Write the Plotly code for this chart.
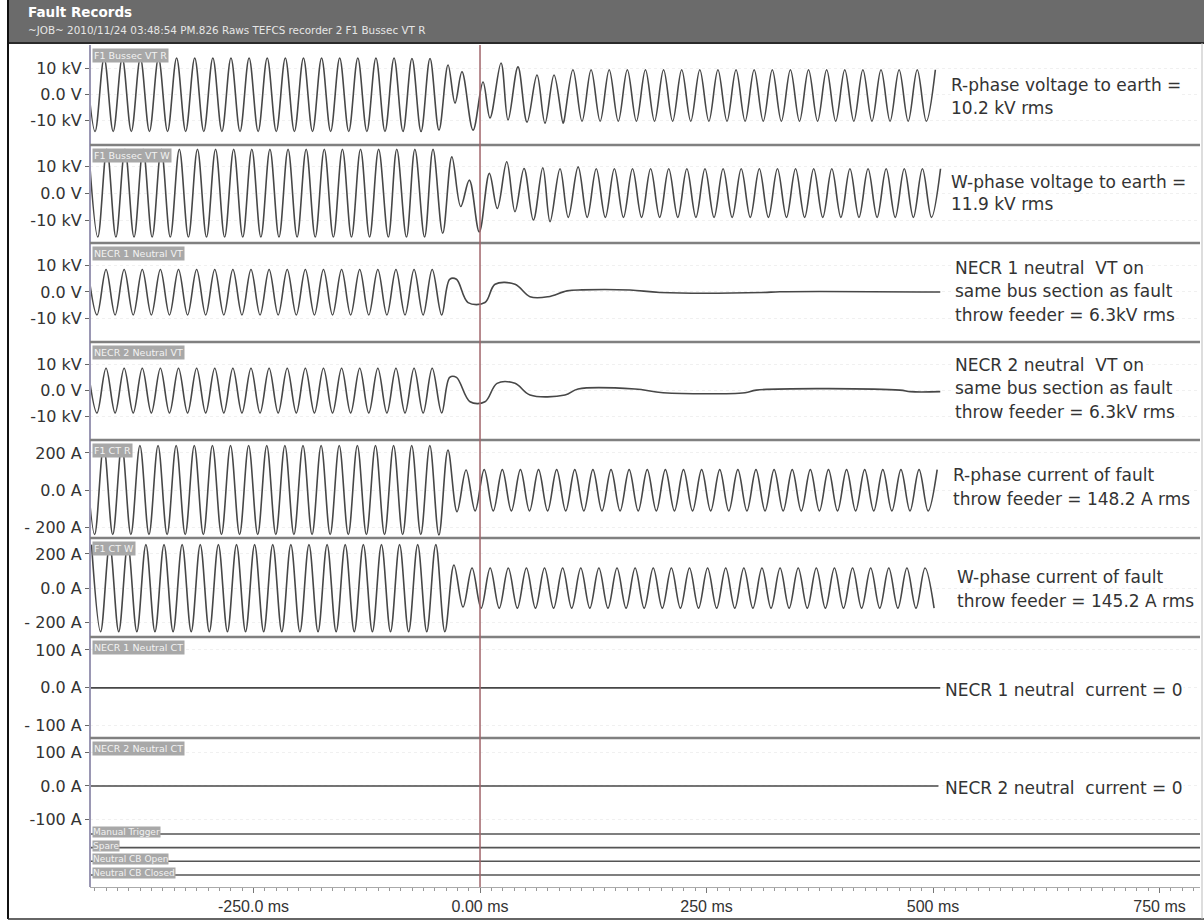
import numpy as np
import plotly.graph_objects as go

# ---------------- data ----------------
CYCLE_MS = 20.0
RECORD_START_MS = -436.0
RECORD_END_MS = 510.0

X_RANGE_MS = [-430.5, 794.7]
X_TICK_VALUES = [-250, 0, 250, 500, 750]
X_TICK_LABELS = ["-250.0 ms", "0.00 ms", "250 ms", "500 ms", "750 ms"]
CURSOR_MS = 0.0

# Channel 1: F1 Bussec VT R (kV) - peak/trough levels and event-window extrema
VR_PRE_PHASE_MS, VR_PRE_PEAK, VR_PRE_TROUGH = 5.1, 14.0, -14.2
VR_EVENT_MS = [-94.9, -85.0, -75.1, -65.1, -55.2, -45.3, -35.3, -27.6, -19.9, -7.7,
               3.3, 11.0, 23.2, 30.9, 41.9, 51.9, 62.9, 71.7, 81.7, 91.6]
VR_EVENT_KV = [14.0, -14.2, 13.8, -14.2, 13.8, -13.7, 11.3, -3.3, 8.7, -13.7,
               4.8, -9.0, 12.1, -9.8, 10.6, -10.6, 7.5, -11.0, 7.5, -11.0]
VR_POST_PHASE_MS, VR_POST_PEAK, VR_POST_TROUGH = 2.6, 9.5, -10.3

# Channel 2: F1 Bussec VT W (kV)
VW_PRE_PHASE_MS, VW_PRE_PEAK, VW_PRE_TROUGH = 8.1, 16.2, -16.3
VW_EVENT_MS = [-101.2, -91.9, -81.2, -71.9, -61.2, -51.9, -41.2, -31.1, -21.3, -11.8,
               -0.8, 10.3, 19.1, 29.5, 38.6, 48.6, 58.9, 69.3, 77.3, 88.3, 97.4, 108.3]
VW_EVENT_KV = [-16.3, 16.2, -16.3, 16.2, -16.3, 16.2, -14.9, 13.4, -5.0, 4.8,
               -14.4, 7.3, -5.7, 11.6, -6.9, 9.1, -10.0, 9.4, -10.6, 9.0, -9.0, 9.7]
VW_POST_PHASE_MS, VW_POST_PEAK, VW_POST_TROUGH = 8.3, 9.0, -9.0

# Channel 3: NECR 1 Neutral VT (kV)
N1_PRE_PHASE_MS, N1_PRE_PEAK, N1_PRE_TROUGH = 7.2, 8.5, -8.7
N1_EVENT_MS = [-42.3, -33.5, -26.0, -13.2, 5.5, 16.6, 38.6, 55.2, 75.1, 96.0,
               112.6, 165.6, 198.7, 312.4, 331.0, 508.0]
N1_EVENT_KV = [-8.7, 4.8, 4.8, -4.0, -4.0, 2.9, 2.9, -1.8, -1.8, 0.4,
               0.8, 0.75, -0.2, -0.2, 0.1, 0.0]

# Channel 4: NECR 2 Neutral VT (kV)
N2_PRE_PHASE_MS, N2_PRE_PEAK, N2_PRE_TROUGH = 7.2, 8.4, -8.8
N2_EVENT_MS = [-42.3, -33.5, -26.0, -11.0, 5.5, 18.8, 38.6, 55.2, 93.8, 108.2,
               171.0, 202.0, 292.5, 305.0, 463.6, 475.0, 508.0]
N2_EVENT_KV = [-8.8, 4.9, 4.9, -4.5, -4.5, 2.6, 2.6, -1.9, -1.9, 0.4,
               0.4, -1.0, -1.0, 0.0, 0.0, -0.6, -0.6]

# Channel 5: F1 CT R (A)
IR_PRE_PHASE_MS, IR_PRE_PEAK, IR_PRE_TROUGH = 4.6, 240, -240
IR_EVENT_MS = [-45.4, -35.4, -25.4, -15.4]
IR_EVENT_A = [-243, 216, -117, 108]
IR_POST_PHASE_MS, IR_POST_PEAK, IR_POST_TROUGH = 4.6, 110, -113

# Channel 6: F1 CT W (A)
IW_PRE_PHASE_MS, IW_PRE_PEAK, IW_PRE_TROUGH = 11.2, 255, -257
IW_EVENT_MS = [-38.8, -28.8, -18.8]
IW_EVENT_A = [-257, 135, -112]
IW_POST_PHASE_MS, IW_POST_PEAK, IW_POST_TROUGH = 11.2, 118, -118

# Channels 7, 8: neutral CTs (A)
N1CT_MS, N1CT_A = [-436.0, 508.0], [0.0, 0.0]
N2CT_MS, N2CT_A = [-436.0, 506.0], [0.0, 0.0]

# Digital channels
DIGITAL_NAMES = ["Manual Trigger", "Spare", "Neutral CB Open", "Neutral CB Closed"]
DIGITAL_MS = [-436.0, 800.0]
DIGITAL_STATES = [0, 0, 0, 0]

CHANNEL_NAMES = ["F1 Bussec VT R", "F1 Bussec VT W", "NECR 1 Neutral VT", "NECR 2 Neutral VT",
                 "F1 CT R", "F1 CT W", "NECR 1 Neutral CT", "NECR 2 Neutral CT"]

Y_TICK_VALUES = [[-10, 0, 10]] * 4 + [[-200, 0, 200]] * 2 + [[-100, 0, 100]] * 2
Y_TICK_LABELS = [["-10 kV", "0.0 V", "10 kV"]] * 4 + \
                [["- 200 A", "0.0 A", "200 A"]] * 2 + \
                [["- 100 A", "0.0 A", "100 A"], ["-100 A", "0.0 A", "100 A"]]

NOTES = [
    ["R-phase voltage to earth =", "10.2 kV rms"],
    ["W-phase voltage to earth =", "11.9 kV rms"],
    ["NECR 1 neutral  VT on", "same bus section as fault", "throw feeder = 6.3kV rms"],
    ["NECR 2 neutral  VT on", "same bus section as fault", "throw feeder = 6.3kV rms"],
    ["R-phase current of fault", "throw feeder = 148.2 A rms"],
    ["W-phase current of fault", "throw feeder = 145.2 A rms"],
    ["NECR 1 neutral  current = 0"],
    ["NECR 2 neutral  current = 0"],
]

TITLE = "Fault Records"
SUBTITLE = "~JOB~ 2010/11/24 03:48:54 PM.826 Raws TEFCS recorder 2 F1 Bussec VT R"

# ---------------- layout / style ----------------
W, H = 1204, 922
L, R, T, B = 90, 1200, 45, 887


def px(X):
    return (X - L) / (R - L)


def py(Y):
    return (B - Y) / (B - T)


PANEL_PX = [(45, 145), (145, 243), (243, 342), (342, 440), (440, 538),
            (538, 637), (637, 738), (738, 828), (828, 887)]
PANEL_RANGE = [(-19.4, 19.0), (-18.5, 17.8), (-18.9, 18.5), (-19.2, 18.5),
               (-259, 270), (-288, 294), (-132, 134), (-127, 145), (-0.88, 3.44)]

NOTE_POS = [
    [(950, 85), (950, 108)],
    [(950, 182), (950, 204)],
    [(954, 268), (954, 291), (954, 315)],
    [(954, 365), (954, 388), (954, 412)],
    [(952, 475), (952, 499)],
    [(956, 577), (956, 601)],
    [(944, 690)],
    [(944, 788)],
]

WAVE = "#474747"
TEXT = "#333333"


def extrema(t_from, t_to, phase, peak, trough):
    """Alternating peak / trough levels, one pair per power cycle."""
    ts, vs = [], []
    t = phase + np.floor((t_from - phase) / CYCLE_MS - 1) * CYCLE_MS
    while t <= t_to:
        for tt, v in ((t, peak), (t + CYCLE_MS / 2, trough)):
            if t_from <= tt <= t_to:
                ts.append(tt)
                vs.append(v)
        t += CYCLE_MS
    return ts, vs


def build(pre, ev_t, ev_v, post=None):
    t1, v1 = extrema(RECORD_START_MS, ev_t[0] - 1, *pre)
    ts, vs = t1 + list(ev_t), v1 + list(ev_v)
    if post is not None:
        t2, v2 = extrema(ev_t[-1] + 1, RECORD_END_MS, *post)
        ts += t2
        vs += v2
    return ts, vs


series = [
    build((VR_PRE_PHASE_MS, VR_PRE_PEAK, VR_PRE_TROUGH), VR_EVENT_MS, VR_EVENT_KV,
          (VR_POST_PHASE_MS, VR_POST_PEAK, VR_POST_TROUGH)),
    build((VW_PRE_PHASE_MS, VW_PRE_PEAK, VW_PRE_TROUGH), VW_EVENT_MS, VW_EVENT_KV,
          (VW_POST_PHASE_MS, VW_POST_PEAK, VW_POST_TROUGH)),
    build((N1_PRE_PHASE_MS, N1_PRE_PEAK, N1_PRE_TROUGH), N1_EVENT_MS, N1_EVENT_KV),
    build((N2_PRE_PHASE_MS, N2_PRE_PEAK, N2_PRE_TROUGH), N2_EVENT_MS, N2_EVENT_KV),
    build((IR_PRE_PHASE_MS, IR_PRE_PEAK, IR_PRE_TROUGH), IR_EVENT_MS, IR_EVENT_A,
          (IR_POST_PHASE_MS, IR_POST_PEAK, IR_POST_TROUGH)),
    build((IW_PRE_PHASE_MS, IW_PRE_PEAK, IW_PRE_TROUGH), IW_EVENT_MS, IW_EVENT_A,
          (IW_POST_PHASE_MS, IW_POST_PEAK, IW_POST_TROUGH)),
    (N1CT_MS, N1CT_A),
    (N2CT_MS, N2CT_A),
]

fig = go.Figure()
for i, (ts, vs) in enumerate(series):
    yname = "y" if i == 0 else f"y{i + 1}"
    spline = i < 6
    fig.add_trace(go.Scatter(
        x=ts, y=vs, mode="lines", xaxis="x", yaxis=yname,
        line=dict(color=WAVE, width=1.6,
                  shape="spline" if spline else "linear", smoothing=1.0),
        hoverinfo="skip", showlegend=False))

n_dig = len(DIGITAL_NAMES)
for k, (name, state) in enumerate(zip(DIGITAL_NAMES, DIGITAL_STATES)):
    level = (n_dig - 1 - k) + 0.5 * state
    fig.add_trace(go.Scatter(
        x=DIGITAL_MS, y=[level, level], mode="lines", xaxis="x", yaxis="y9",
        line=dict(color="#555555", width=1.6), hoverinfo="skip", showlegend=False))

layout = dict(
    width=W, height=H,
    margin=dict(l=L, r=W - R, t=T, b=H - B, pad=0),
    paper_bgcolor="white", plot_bgcolor="white",
    showlegend=False,
    font=dict(family="DejaVu Sans", color=TEXT),
    xaxis=dict(
        domain=[0, 1], range=X_RANGE_MS, anchor="y9",
        tickmode="array", tickvals=X_TICK_VALUES, ticktext=X_TICK_LABELS,
        ticks="outside", ticklen=5, tickcolor="#777777",
        minor=dict(tickmode="linear", tick0=0, dtick=12.5, ticks="outside",
                   ticklen=3, tickcolor="#999999", showgrid=False),
        tickfont=dict(family="Liberation Sans", size=16, color=TEXT),
        showline=True, linecolor="#aaaaaa", linewidth=1,
        showgrid=False, zeroline=False, fixedrange=True,
    ),
)
for i, ((top, bot), rng) in enumerate(zip(PANEL_PX, PANEL_RANGE)):
    key = "yaxis" if i == 0 else f"yaxis{i + 1}"
    ax = dict(domain=[py(bot), py(top)], range=list(rng), anchor="x",
              showline=False, zeroline=False, fixedrange=True)
    if i < 8:
        ax.update(tickmode="array", tickvals=Y_TICK_VALUES[i], ticktext=Y_TICK_LABELS[i],
                  ticks="outside", ticklen=4, tickcolor="#666666",
                  tickfont=dict(family="DejaVu Sans", size=16, color=TEXT),
                  showgrid=True, gridcolor="#f0f0f0", griddash="dot", gridwidth=1)
    else:
        ax.update(showticklabels=False, ticks="", showgrid=False)
    layout[key] = ax

shapes = []
# header bar and frame
shapes.append(dict(type="rect", xref="paper", yref="paper", x0=px(8), x1=px(1204),
                   y0=py(43), y1=py(0), fillcolor="#6b6b6b", line=dict(width=0), layer="above"))
shapes.append(dict(type="line", xref="paper", yref="paper", x0=px(8), x1=px(1204),
                   y0=py(43), y1=py(43), line=dict(color="#2a2a2a", width=2)))
shapes.append(dict(type="line", xref="paper", yref="paper", x0=px(8), x1=px(8),
                   y0=py(0), y1=py(919), line=dict(color="#111111", width=2)))
shapes.append(dict(type="line", xref="paper", yref="paper", x0=px(8), x1=px(1204),
                   y0=py(919), y1=py(919), line=dict(color="#333333", width=1.5)))
shapes.append(dict(type="line", xref="paper", yref="paper", x0=px(1202), x1=px(1202),
                   y0=py(43), y1=py(919), line=dict(color="#bbbbbb", width=1)))
# plot left border
shapes.append(dict(type="line", xref="paper", yref="paper", x0=0, x1=0,
                   y0=py(887), y1=py(45), line=dict(color="#9a97b3", width=2)))
# panel separators
for top, bot in PANEL_PX[:7]:
    shapes.append(dict(type="line", xref="paper", yref="paper", x0=0, x1=1,
                       y0=py(bot), y1=py(bot), line=dict(color="#808080", width=2.5)))
# cursor at 0 ms
shapes.append(dict(type="line", xref="x", yref="paper", x0=CURSOR_MS, x1=CURSOR_MS,
                   y0=0, y1=1, line=dict(color="#a0656a", width=1.5)))
layout["shapes"] = shapes

ann = []
ann.append(dict(text="<b>" + TITLE + "</b>", xref="paper", yref="paper", x=px(26), y=py(12),
                xanchor="left", yanchor="middle", showarrow=False,
                font=dict(family="DejaVu Sans", size=13.5, color="white")))
ann.append(dict(text=SUBTITLE, xref="paper", yref="paper", x=px(26), y=py(30),
                xanchor="left", yanchor="middle", showarrow=False,
                font=dict(family="DejaVu Sans", size=10.4, color="#e6e6e6")))
for i, name in enumerate(CHANNEL_NAMES):
    ann.append(dict(text=name, xref="paper", yref="paper", x=px(92), y=py(PANEL_PX[i][0] + 3),
                    xanchor="left", yanchor="top", showarrow=False, bgcolor="#a8a8a8",
                    borderpad=1, font=dict(family="DejaVu Sans", size=9.5, color="#f2f2f2")))
for k, name in enumerate(DIGITAL_NAMES):
    level = (n_dig - 1 - k)
    ann.append(dict(text=name, xref="paper", yref="y9", x=px(92), y=level, yshift=2,
                    xanchor="left", yanchor="middle", showarrow=False, bgcolor="#a8a8a8",
                    borderpad=0, font=dict(family="DejaVu Sans", size=9, color="#f2f2f2")))
for lines, poss in zip(NOTES, NOTE_POS):
    for txt, (X, Y) in zip(lines, poss):
        ann.append(dict(text=txt, xref="paper", yref="paper", x=px(X), y=py(Y),
                        xanchor="left", yanchor="middle", showarrow=False, borderpad=0,
                        bgcolor="white",
                        font=dict(family="DejaVu Sans", size=17, color=TEXT)))
layout["annotations"] = ann

fig.update_layout(**layout)
fig.write_html("out.html", config={"displayModeBar": False},
               post_script="document.body.style.margin='0';document.body.style.padding='0';")
